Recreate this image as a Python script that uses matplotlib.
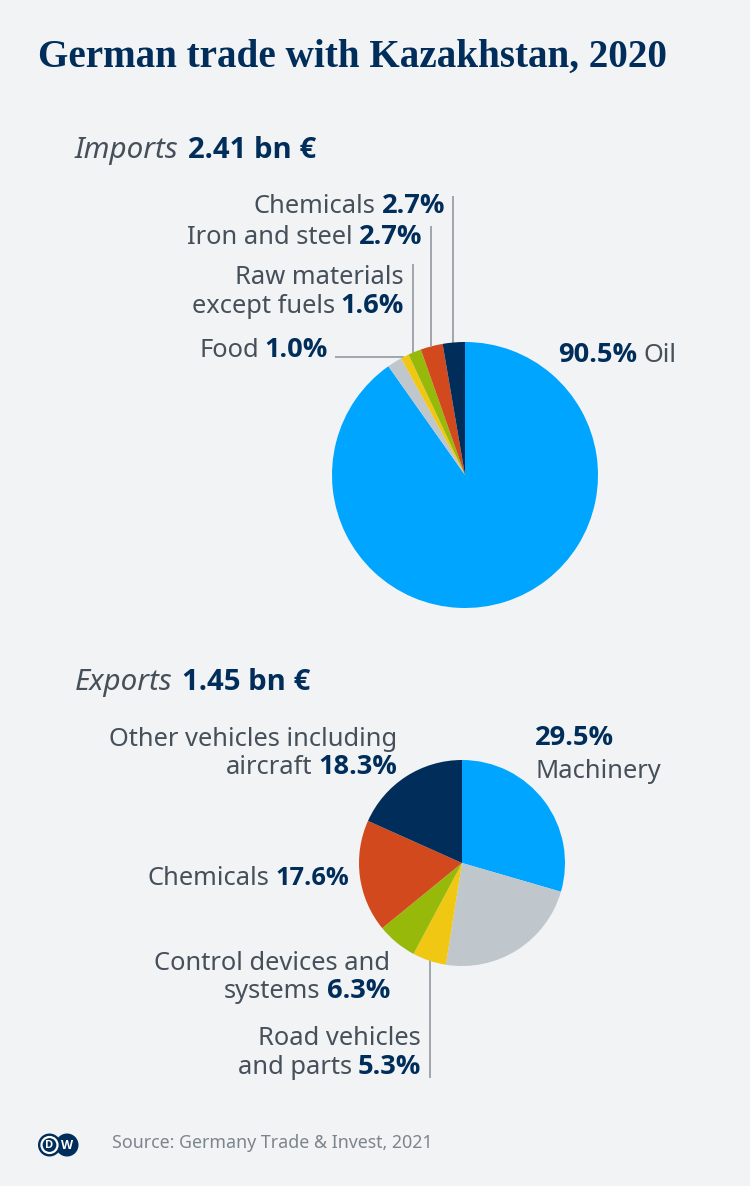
import matplotlib
matplotlib.use("Agg")
import matplotlib.pyplot as plt
from matplotlib.patches import Circle

W, H = 750, 1186
BG = "#f1f3f5"
NAVY = "#002d5a"
TXT = "#46505a"
LINE = "#8a9099"
BLUE, GRAY, YEL, GRN, RED = "#00a5ff", "#bfc6cc", "#f0c814", "#96b90a", "#d2491e"

title = "German trade with Kazakhstan, 2020"
source = "Source: Germany Trade & Invest, 2021"

import_values = [90.5, 1.8, 1.0, 1.6, 2.7, 2.7]
export_values = [29.5, 23.0, 5.3, 6.3, 17.6, 18.3]
slice_colors = [BLUE, GRAY, YEL, GRN, RED, NAVY]

plt.rcParams["font.family"] = ["Noto Sans", "DejaVu Sans"]
fig = plt.figure(figsize=(W / 100, H / 100), dpi=100, facecolor=BG)
bgax = fig.add_axes([0, 0, 1, 1])
bgax.set_xlim(0, W)
bgax.set_ylim(H, 0)
bgax.axis("off")
renderer = fig.canvas.get_renderer()


def pie_at(values, cx, cy, r):
    ax = fig.add_axes([(cx - r) / W, 1 - (cy + r) / H, 2 * r / W, 2 * r / H])
    ax.pie(values, colors=slice_colors, startangle=90, counterclock=False, radius=1,
           wedgeprops=dict(linewidth=0))
    ax.set_xlim(-1, 1)
    ax.set_ylim(-1, 1)
    ax.set_aspect("equal")
    ax.axis("off")


def rich(x, y, parts, size=18.35, bold_scale=1.07, gap=6.0, align="right"):
    arts = []
    for s, b in parts:
        t = bgax.text(0, y, s, fontsize=size * bold_scale if b else size, va="baseline", ha="left",
                      color=NAVY if b else TXT, fontweight="bold" if b else "normal",
                      family="Open Sans" if b else "Noto Sans")
        arts.append(t)
    widths = [a.get_window_extent(renderer).width for a in arts]
    total = sum(widths) + gap * (len(arts) - 1)
    pos = x - total if align == "right" else x
    for a, w in zip(arts, widths):
        a.set_x(pos)
        pos += w + gap
    return arts


def leader(xs, ys):
    bgax.plot(xs, ys, color=LINE, lw=1.1, solid_capstyle="butt")


pie_at(import_values, 465, 475, 133)
pie_at(export_values, 462, 863, 103)

bgax.text(38, 67, title, fontsize=28.2, family="Liberation Serif", fontweight="bold",
          color=NAVY, va="baseline", ha="left")

h = rich(75, 158, [("Imports", False), ("2.41 bn €", True)], size=21.3, bold_scale=0.995, gap=2, align="left")
h[0].set_style("italic")
h = rich(75, 690, [("Exports", False), ("1.45 bn €", True)], size=21.3, bold_scale=0.995, gap=2, align="left")
h[0].set_style("italic")

rich(445, 213, [("Chemicals", False), ("2.7%", True)])
rich(422, 244, [("Iron and steel", False), ("2.7%", True)])
rich(404, 284, [("Raw materials", False)])
rich(404, 313, [("except fuels", False), ("1.6%", True)])
rich(328, 357, [("Food", False), ("1.0%", True)])
rich(558, 362, [("90.5%", True), ("Oil", False)], align="left")

leader([453, 453], [196, 343])
leader([430.5, 430.5], [226, 346])
leader([413, 413], [264, 353])
leader([335, 404], [357, 357])

rich(535, 745, [("29.5%", True)], align="left")
rich(535, 778, [("Machinery", False)], align="left")
rich(397, 746, [("Other vehicles including", False)])
rich(397, 774, [("aircraft", False), ("18.3%", True)])
rich(349, 885, [("Chemicals", False), ("17.6%", True)], bold_scale=1.0)
rich(390, 970, [("Control devices and", False)])
rich(390, 998, [("systems", False), ("6.3%", True)])
rich(421, 1045, [("Road vehicles", False)])
rich(421, 1074, [("and parts", False), ("5.3%", True)])
leader([429.5, 429.5], [960, 1078])

bgax.text(112, 1148, source, fontsize=12.8, color="#7d858c", va="baseline", ha="left")
bgax.add_patch(Circle((49.5, 1145), 11.5, fc=NAVY, ec="none"))
bgax.add_patch(Circle((67, 1145), 11.5, fc=NAVY, ec="none"))
bgax.add_patch(Circle((49.5, 1145), 8, fc="none", ec="white", lw=1.6))
bgax.text(49.5, 1145.5, "D", color="white", fontsize=8, fontweight="bold", family="Open Sans", ha="center", va="center")
bgax.text(67, 1145.5, "W", color="white", fontsize=9, fontweight="bold", family="Open Sans", ha="center", va="center")

fig.savefig("out.png", dpi=100, facecolor=BG)
